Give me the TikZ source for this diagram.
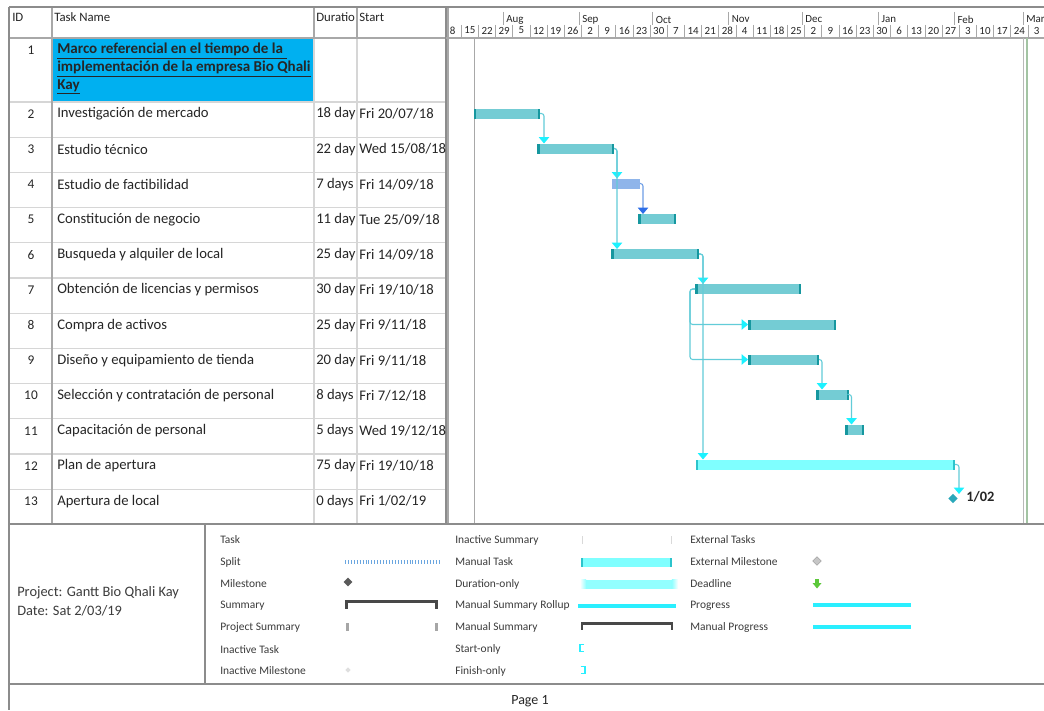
\documentclass[tikz,border=0pt]{standalone}
\usepackage{fontspec}
\setmainfont{Carlito}
\usetikzlibrary{arrows.meta,calc,shapes.geometric}
\definecolor{bordergray}{HTML}{8C8C8C}
\definecolor{gridlight}{HTML}{D6D6D6}
\definecolor{colgray}{HTML}{A8A8A8}
\definecolor{rowblue}{HTML}{00B0F0}
\definecolor{txtdark}{HTML}{262626}
\definecolor{legtxt}{HTML}{3C3C3C}
\definecolor{barfill}{HTML}{74CCD4}
\definecolor{barend}{HTML}{16979F}
\definecolor{bluebar}{HTML}{8FB5EA}
\definecolor{cyanbar}{HTML}{7FFFFF}
\definecolor{cyanend}{HTML}{2CC4CC}
\definecolor{linkcol}{HTML}{62CCD8}
\definecolor{arrcyan}{HTML}{1CF2FF}
\definecolor{bluelink}{HTML}{6E9EE6}
\definecolor{bluearr}{HTML}{2C6DE8}
\definecolor{mscol}{HTML}{2AA8BA}
\definecolor{splitblue}{HTML}{6AA6E0}
\definecolor{sumgray}{HTML}{484848}
\definecolor{greenline}{HTML}{A3C4A3}
\definecolor{deadgreen}{HTML}{5CC83A}
\definecolor{rollcyan}{HTML}{2AEFFF}

\newcommand{\taskrow}[4]{%
  \pgfmathsetmacro{\ry}{114+35.2*(#1-2)}%
  \node[idtxt] (id#1) at (31,\ry) {#1};
  \node[rowtxt] (tn#1) at (57,\ry) {#2};
  \node[rowtxt] (du#1) at (316,\ry) {#3};
  \begin{scope}
    \clip (357,{\ry-15}) rectangle (445.5,{\ry+15});
    \node[rowtxt] (st#1) at (359,\ry) {#4};
  \end{scope}
}
\newcommand{\gbar}[5]{%
  \node[#5, minimum width={(#3-#2)*0.75pt}] (#1) at ({(#2+#3)/2},#4) {};
}
\newcommand{\gends}[3]{%
  \fill[#2] (#1.north west) rectangle ($(#1.south west)+(#3,0)$);
  \fill[#2] (#1.north east) rectangle ($(#1.south east)+(-#3,0)$);
}

\begin{document}
\begin{tikzpicture}[x=0.75pt,y=-0.75pt,
  idtxt/.style={anchor=center,inner sep=0,font=\fontsize{10}{12}\selectfont,text=txtdark},
  rowtxt/.style={anchor=west,inner sep=0,font=\fontsize{11}{13}\selectfont,text=txtdark},
  hdrtxt/.style={anchor=west,inner sep=0,font=\fontsize{9.6}{11}\selectfont,text=txtdark},
  titletxt/.style={anchor=west,inner sep=0,font=\bfseries\fontsize{11.3}{13}\selectfont,text=txtdark},
  timetxt/.style={anchor=center,inner sep=0,font=\fontsize{8.2}{9}\selectfont,text=txtdark},
  montxt/.style={anchor=west,inner sep=0,font=\fontsize{8.2}{9}\selectfont,text=txtdark},
  legend/.style={anchor=west,inner sep=0,font=\fontsize{8.6}{10}\selectfont,text=legtxt},
  info/.style={anchor=west,inner sep=0,font=\fontsize{10.8}{13}\selectfont,text=legtxt},
  taskbar/.style={fill=barfill,inner sep=0,outer sep=0,minimum height=7.5pt},
  bluetask/.style={fill=bluebar,inner sep=0,outer sep=0,minimum height=7.5pt},
  cyantask/.style={fill=cyanbar,inner sep=0,outer sep=0,minimum height=7.5pt},
  link/.style={draw=linkcol,line width=0.8pt,rounded corners=2pt,
    -{Triangle[width=7.8pt,length=4.8pt,color=arrcyan]}},
  bluelinkst/.style={draw=bluelink,line width=0.8pt,rounded corners=2pt,
    -{Triangle[width=7.8pt,length=4.8pt,color=bluearr]}},
  msnode/.style={diamond,inner sep=0,outer sep=0,minimum width=6.8pt,minimum height=6.8pt}
]
\useasboundingbox (0,0) rectangle (1044,710);
\fill[white] (0,0) rectangle (1044,710);

% ---------- table ----------
\fill[rowblue] (52.5,38.5) rectangle (314,101.5);
\foreach \j in {0,...,11}{
  \draw[gridlight,line width=0.8pt] (9,{102+35.2*\j}) -- (446,{102+35.2*\j});
}
\draw[gridlight,line width=0.8pt] (314,38) -- (314,524.4);
\draw[gridlight,line width=0.8pt] (357,38) -- (357,524.4);
\draw[colgray,line width=0.9pt] (314,7) -- (314,38);
\draw[colgray,line width=0.9pt] (357,7) -- (357,38);
\draw[colgray,line width=0.9pt] (52,7) -- (52,524.4);
\draw[colgray,line width=0.9pt] (9,38) -- (446,38);
\draw[bordergray,line width=1.2pt] (446,7) -- (446,524.4);

\node[hdrtxt] (hid) at (12,17) {ID};
\node[hdrtxt] (hname) at (54,17) {Task Name};
\node[hdrtxt] (hdur) at (316,17) {Duratio};
\node[hdrtxt] (hstart) at (359,17) {Start};

\node[idtxt] (id1) at (31,50) {1};
\node[titletxt] (t1a) at (57,51) {\underline{Marco referencial en el tiempo de la\ }};
\node[titletxt] (t1b) at (57,69) {\underline{implementación de la empresa Bio Qhali}};
\node[titletxt] (t1c) at (57,87) {\underline{Kay}};

\taskrow{2}{Investigación de mercado}{18 day}{Fri 20/07/18}
\taskrow{3}{Estudio técnico}{22 day}{Wed 15/08/18}
\taskrow{4}{Estudio de factibilidad}{7 days}{Fri 14/09/18}
\taskrow{5}{Constitución de negocio}{11 day}{Tue 25/09/18}
\taskrow{6}{Busqueda y alquiler de local}{25 day}{Fri 14/09/18}
\taskrow{7}{Obtención de licencias y permisos}{30 day}{Fri 19/10/18}
\taskrow{8}{Compra de activos}{25 day}{Fri 9/11/18}
\taskrow{9}{Diseño y equipamiento de tienda}{20 day}{Fri 9/11/18}
\taskrow{10}{Selección y contratación de personal}{8 days}{Fri 7/12/18}
\taskrow{11}{Capacitación de personal}{5 days}{Wed 19/12/18}
\taskrow{12}{Plan de apertura}{75 day}{Fri 19/10/18}
\taskrow{13}{Apertura de local}{0 days}{Fri 1/02/19}

% ---------- timescale ----------
\begin{scope}
  \clip (447.5,7) rectangle (1044,38);
  \foreach \mx/\mn in {503/Aug,579/Sep,652.6/Oct,728.6/Nov,802.2/Dec,878.3/Jan,954.3/Feb,1023/Mar}{
    \draw[colgray,line width=0.6pt] (\mx,12) -- (\mx,25);
    \node[montxt] (mon\mn) at (\mx+3,19.5) {\mn};
  }
  \foreach \w [count=\k from 0] in {8,15,22,29,5,12,19,26,2,9,16,23,30,7,14,21,28,4,11,18,25,2,9,16,23,30,6,13,20,27,3,10,17,24,3}{
    \pgfmathsetmacro{\wx}{444.1+17.171*\k}
    \draw[colgray,line width=0.6pt] (\wx,25) -- (\wx,38);
    \node[timetxt] (wk\k) at (\wx+8.6,30.5) {\w};
  }
\end{scope}
\draw[colgray,line width=0.9pt] (446,38) -- (1044,38);

% ---------- chart lines ----------
\draw[colgray,line width=1.2pt] (448,7) -- (448,524.4);
\draw[colgray,line width=0.8pt] (474.5,38) -- (474.5,524.4);
\draw[colgray!80,line width=0.8pt] (1023.5,38) -- (1023.5,524.4);
\draw[greenline,line width=0.9pt] (1027,38) -- (1027,524.4);

% ---------- bars ----------
\gbar{b2}{473.5}{540}{113.5}{taskbar}
\gbar{b3}{537}{614}{148.5}{taskbar}
\gbar{b4}{612}{640}{183.5}{bluetask}
\gbar{b5}{638}{676}{219}{taskbar}
\gbar{b6}{611}{699}{254}{taskbar}
\gbar{b7}{695}{801}{289}{taskbar}
\gbar{b8}{748}{836}{324.5}{taskbar}
\gbar{b9}{748}{819}{359.5}{taskbar}
\gbar{b10}{816}{849}{394.5}{taskbar}
\gbar{b11}{845}{864}{429.5}{taskbar}
\gbar{b12}{696}{955}{464.5}{cyantask}
\foreach \b in {b2,b3,b5,b6,b7,b8,b9,b10,b11}{\gends{\b}{barend}{2.5}}
\gends{b12}{cyanend}{1.6}
\node[msnode,fill=mscol] (m13) at (953,498.5) {};
\node[anchor=west,inner sep=0,font=\bfseries\fontsize{10.8}{12}\selectfont,text=txtdark] (lab13) at (966,497) {1/02};

% ---------- connectors ----------
\coordinate (c23) at ($(b2.east)+(4,0)$);
\coordinate (c34) at ($(b3.east)+(3,0)$);
\coordinate (c45) at ($(b4.east)+(3,0)$);
\coordinate (c67) at ($(b6.east)+(4,0)$);
\coordinate (c78) at ($(b7.west)+(-5,0)$);
\coordinate (c910) at ($(b9.east)+(3,0)$);
\coordinate (c1011) at ($(b10.east)+(2.5,0)$);
\coordinate (c1213) at ($(b12.east)+(4,0)$);
\draw[link] (b2.east) -| (c23 |- b3.north);
\draw[link] (b3.east) -| (c34 |- b4.north);
\draw[link] (b3.east) -| (c34 |- b6.north);
\draw[bluelinkst] (b4.east) -| (c45 |- b5.north);
\draw[link] (b6.east) -| (c67 |- b7.north);
\draw[link] (b6.east) -| (c67 |- b12.north);
\draw[link] (b7.west) -| (c78 |- b8.west) -- (b8.west);
\draw[link] (b7.west) -| (c78 |- b9.west) -- (b9.west);
\draw[link] (b9.east) -| (c910 |- b10.north);
\draw[link] (b10.east) -| (c1011 |- b11.north);
\draw[link] (b12.east) -| (c1213 |- m13.north);

% ---------- frame ----------
\draw[bordergray,line width=1.2pt] (9,7) -- (1044,7);
\draw[bordergray,line width=1.2pt] (9,7) -- (9,710);
\draw[bordergray,line width=1.4pt] (9,524.4) -- (1044,524.4);
\draw[bordergray,line width=1.0pt] (205,524.4) -- (205,684);
\draw[bordergray,line width=1.4pt] (9,684) -- (1044,684);

% ---------- legend ----------
\node[info] (proj) at (17,593) {Project: Gantt Bio Qhali Kay};
\node[info] (pdate) at (17,611) {Date: Sat 2/03/19};

\node[legend] (lg1) at (220,540) {Task};
\node[legend] (lg2) at (220,562) {Split};
\node[legend] (lg3) at (220,584) {Milestone};
\node[legend] (lg4) at (220,605.5) {Summary};
\node[legend] (lg5) at (220,627.5) {Project Summary};
\node[legend] (lg6) at (220,649.5) {Inactive Task};
\node[legend] (lg7) at (220,671) {Inactive Milestone};

\node[legend] (lg8) at (455,540) {Inactive Summary};
\node[legend] (lg9) at (455,562) {Manual Task};
\node[legend] (lg10) at (455,584) {Duration-only};
\node[legend] (lg11) at (455,605.5) {Manual Summary Rollup};
\node[legend] (lg12) at (455,627.5) {Manual Summary};
\node[legend] (lg13) at (455,649.5) {Start-only};
\node[legend] (lg14) at (455,671) {Finish-only};

\node[legend] (lg15) at (690,540) {External Tasks};
\node[legend] (lg16) at (690,562) {External Milestone};
\node[legend] (lg17) at (690,584) {Deadline};
\node[legend] (lg18) at (690,605.5) {Progress};
\node[legend] (lg19) at (690,627.5) {Manual Progress};

% split
\draw[splitblue,line width=2.6pt,dash pattern=on 0.7pt off 1.5pt] (345,562) -- (441,562);
% milestone
\node[msnode,fill=sumgray!90,minimum width=6.5pt,minimum height=6.5pt] (lgms) at (348,582) {};
% summary
\fill[sumgray] (345,599.5) rectangle (438,602.5);
\fill[sumgray] (345,599.5) rectangle (348,609);
\fill[sumgray] (435,599.5) rectangle (438,609);
% project summary
\fill[gray!70] (346,623) rectangle (348.5,631);
\fill[gray!70] (435,623) rectangle (437.5,631);
% inactive milestone
\node[msnode,fill=gray!25,minimum width=4pt,minimum height=4pt] (lgims) at (348,670) {};
% inactive summary
\fill[gray!30] (581.5,536) rectangle (582.5,544);
\fill[gray!30] (670.5,536) rectangle (671.5,544);
% manual task
\fill[cyanbar] (581,557.5) rectangle (672,566.5);
\fill[cyanend] (581,557.5) rectangle (583,566.5);
\fill[cyanend] (670,557.5) rectangle (672,566.5);
% duration-only
\fill[cyanbar!85] (586,579.5) rectangle (672,588.5);
\shade[left color=white,right color=cyanbar!85] (580,579.5) rectangle (586.1,588.5);
\shade[left color=cyanbar!85,right color=white] (671.9,579.5) rectangle (678,588.5);
% manual summary rollup
\fill[rollcyan] (578,603.5) rectangle (676,607.5);
% manual summary
\fill[sumgray] (580.5,622) rectangle (673,625);
\fill[sumgray] (580.5,622) rectangle (583,630);
\fill[sumgray] (670.5,622) rectangle (673,630);
% start-only / finish-only
\draw[rollcyan,line width=1.3pt] (584,644.5) -- (580,644.5) -- (580,651.5) -- (584,651.5);
\draw[rollcyan,line width=1.3pt] (580.5,666.5) -- (585,666.5) -- (585,673.5) -- (580.5,673.5);
% external milestone
\node[msnode,fill=gray!45,draw=gray!70,line width=0.4pt,minimum width=6.5pt,minimum height=6.5pt] (lgext) at (817,561) {};
% deadline
\fill[deadgreen] (815.3,578.5) rectangle (818.7,583.5);
\fill[deadgreen] (812.5,583) -- (821.5,583) -- (817,588.5) -- cycle;
% progress
\fill[rollcyan] (813,603) rectangle (911,606.5);
\fill[rollcyan] (813,625) rectangle (911,628.5);

% ---------- footer ----------
\node[anchor=center,inner sep=0,font=\fontsize{10.5}{12}\selectfont,text=txtdark] (page) at (530,701) {Page 1};
\end{tikzpicture}
\end{document}
